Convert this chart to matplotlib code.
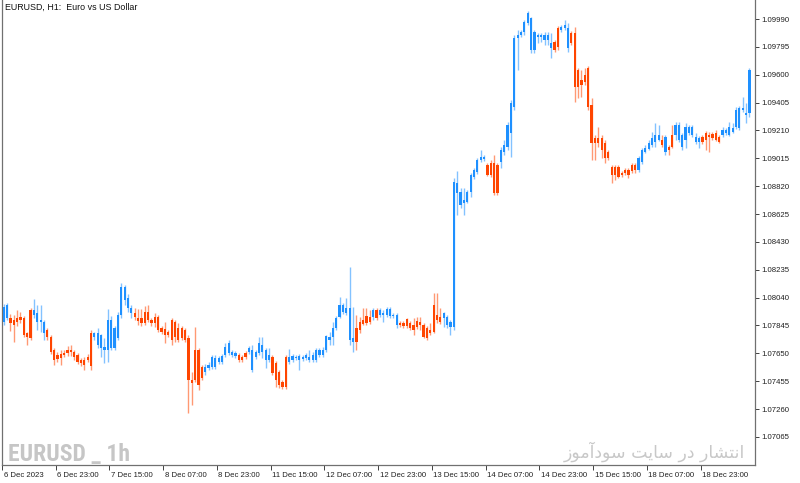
import matplotlib
matplotlib.use("Agg")
import matplotlib.pyplot as plt
import matplotlib.transforms as mtransforms
import numpy as np

# ---------------- data (EURUSD H1) ----------------
opens = [
    1.07869, 1.07897, 1.07897, 1.07883, 1.07897, 1.07904, 1.07897, 1.07792, 1.07953, 1.07918, 1.07869, 1.07869, 1.07792, 1.07813, 1.07764, 1.07673,
    1.07638, 1.07645, 1.07652, 1.07673, 1.07673, 1.07659, 1.07638, 1.07603, 1.07603, 1.07624, 1.07792, 1.07764, 1.07708, 1.07687, 1.07673, 1.07673,
    1.07687, 1.07687, 1.07757, 1.07918, 1.08023, 1.07967, 1.07932, 1.07932, 1.07897, 1.07897, 1.07939, 1.07939, 1.07883, 1.07904, 1.07904, 1.07827,
    1.07820, 1.07799, 1.07883, 1.07869, 1.07827, 1.07827, 1.07813, 1.07757, 1.07463, 1.07673, 1.07673, 1.07554, 1.07519, 1.07547, 1.07554, 1.07554,
    1.07589, 1.07589, 1.07638, 1.07652, 1.07638, 1.07631, 1.07638, 1.07624, 1.07652, 1.07659, 1.07533, 1.07624, 1.07652, 1.07659, 1.07603, 1.07603,
    1.07624, 1.07582, 1.07519, 1.07449, 1.07624, 1.07589, 1.07603, 1.07617, 1.07603, 1.07610, 1.07617, 1.07603, 1.07603, 1.07603, 1.07638, 1.07638,
    1.07673, 1.07743, 1.07764, 1.07827, 1.07904, 1.07939, 1.07932, 1.07743, 1.07729, 1.07827, 1.07869, 1.07883, 1.07911, 1.07904, 1.07904, 1.07953,
    1.07918, 1.07918, 1.07918, 1.07911, 1.07911, 1.07848, 1.07862, 1.07862, 1.07890, 1.07862, 1.07848, 1.07876, 1.07869, 1.07848, 1.07827, 1.07813,
    1.07988, 1.07918, 1.07904, 1.07897, 1.07848, 1.07834, 1.07834, 1.08772, 1.08688, 1.08702, 1.08709, 1.08779, 1.08884, 1.08919, 1.09003, 1.09010,
    1.08968, 1.08982, 1.08982, 1.08968, 1.08989, 1.09059, 1.09094, 1.09192, 1.09374, 1.09857, 1.09878, 1.09899, 1.09962, 1.09773, 1.09773, 1.09864,
    1.09864, 1.09843, 1.09843, 1.09787, 1.09829, 1.09927, 1.09913, 1.09927, 1.09787, 1.09892, 1.09892, 1.09633, 1.09563, 1.09598, 1.09647, 1.09388,
    1.09157, 1.09157, 1.09157, 1.09122, 1.09059, 1.08954, 1.08954, 1.08954, 1.08912, 1.08933, 1.08933, 1.08968, 1.08968, 1.08933, 1.08989, 1.09059,
    1.09080, 1.09108, 1.09129, 1.09143, 1.09143, 1.09059, 1.09094, 1.09178, 1.09178, 1.09143, 1.09094, 1.09143, 1.09192, 1.09178, 1.09129, 1.09129,
    1.09164, 1.09192, 1.09178, 1.09185, 1.09192, 1.09164, 1.09178, 1.09192, 1.09178, 1.09199, 1.09234, 1.09227, 1.09353, 1.09318, 1.09332,
]
highs = [
    1.07995, 1.08002, 1.07925, 1.07918, 1.07953, 1.07939, 1.07911, 1.07799, 1.07967, 1.08030, 1.07988, 1.07988, 1.07883, 1.07827, 1.07778, 1.07687,
    1.07659, 1.07673, 1.07673, 1.07701, 1.07708, 1.07673, 1.07652, 1.07617, 1.07624, 1.07645, 1.07813, 1.07799, 1.07827, 1.07785, 1.07757, 1.07960,
    1.07911, 1.07841, 1.07939, 1.08142, 1.08128, 1.08065, 1.07988, 1.07967, 1.07960, 1.07960, 1.07981, 1.07988, 1.07897, 1.07932, 1.07918, 1.07841,
    1.07869, 1.07813, 1.07897, 1.07883, 1.07862, 1.07841, 1.07827, 1.07778, 1.07519, 1.07834, 1.07687, 1.07568, 1.07575, 1.07589, 1.07638, 1.07638,
    1.07631, 1.07645, 1.07722, 1.07743, 1.07673, 1.07666, 1.07652, 1.07638, 1.07666, 1.07701, 1.07708, 1.07673, 1.07764, 1.07764, 1.07687, 1.07687,
    1.07638, 1.07596, 1.07533, 1.07463, 1.07638, 1.07680, 1.07645, 1.07638, 1.07645, 1.07638, 1.07652, 1.07673, 1.07659, 1.07687, 1.07687, 1.07694,
    1.07778, 1.07799, 1.07869, 1.07911, 1.08044, 1.08002, 1.08037, 1.08254, 1.07974, 1.07918, 1.07904, 1.07967, 1.07967, 1.07953, 1.07967, 1.07967,
    1.07967, 1.07953, 1.07974, 1.07974, 1.07932, 1.07932, 1.07876, 1.07876, 1.07897, 1.07876, 1.07897, 1.07904, 1.07904, 1.07862, 1.07841, 1.07862,
    1.08072, 1.08072, 1.07967, 1.07939, 1.07918, 1.07883, 1.08877, 1.08926, 1.08807, 1.08807, 1.08793, 1.08912, 1.08947, 1.09017, 1.09073, 1.09038,
    1.08982, 1.09003, 1.09038, 1.08982, 1.09094, 1.09143, 1.09269, 1.09423, 1.09878, 1.09913, 1.09913, 1.09983, 1.10046, 1.10004, 1.09913, 1.09892,
    1.09892, 1.09899, 1.09899, 1.09892, 1.09843, 1.09941, 1.09948, 1.09983, 1.09962, 1.09906, 1.09934, 1.09647, 1.09633, 1.09647, 1.09661, 1.09437,
    1.09178, 1.09234, 1.09178, 1.09143, 1.09073, 1.08968, 1.08968, 1.08968, 1.08926, 1.08947, 1.08947, 1.08982, 1.08982, 1.09031, 1.09087, 1.09108,
    1.09143, 1.09199, 1.09262, 1.09248, 1.09178, 1.09178, 1.09108, 1.09248, 1.09269, 1.09269, 1.09192, 1.09262, 1.09248, 1.09248, 1.09192, 1.09171,
    1.09178, 1.09206, 1.09199, 1.09199, 1.09213, 1.09178, 1.09234, 1.09227, 1.09269, 1.09262, 1.09374, 1.09381, 1.09444, 1.09402, 1.09647,
]
lows = [
    1.07848, 1.07883, 1.07806, 1.07729, 1.07841, 1.07862, 1.07764, 1.07708, 1.07743, 1.07897, 1.07813, 1.07799, 1.07743, 1.07743, 1.07645, 1.07568,
    1.07589, 1.07568, 1.07624, 1.07631, 1.07631, 1.07603, 1.07575, 1.07561, 1.07533, 1.07589, 1.07533, 1.07743, 1.07687, 1.07624, 1.07582, 1.07589,
    1.07673, 1.07673, 1.07743, 1.07897, 1.07988, 1.07939, 1.07897, 1.07883, 1.07848, 1.07841, 1.07848, 1.07869, 1.07841, 1.07834, 1.07799, 1.07785,
    1.07722, 1.07764, 1.07708, 1.07729, 1.07729, 1.07743, 1.07729, 1.07232, 1.07288, 1.07449, 1.07393, 1.07463, 1.07498, 1.07533, 1.07540, 1.07540,
    1.07575, 1.07575, 1.07624, 1.07638, 1.07624, 1.07617, 1.07589, 1.07589, 1.07610, 1.07645, 1.07519, 1.07610, 1.07638, 1.07617, 1.07547, 1.07589,
    1.07498, 1.07414, 1.07407, 1.07400, 1.07400, 1.07575, 1.07589, 1.07603, 1.07533, 1.07596, 1.07603, 1.07589, 1.07589, 1.07589, 1.07624, 1.07624,
    1.07659, 1.07708, 1.07708, 1.07813, 1.07897, 1.07925, 1.07918, 1.07708, 1.07659, 1.07673, 1.07792, 1.07848, 1.07848, 1.07855, 1.07883, 1.07883,
    1.07904, 1.07869, 1.07904, 1.07897, 1.07897, 1.07827, 1.07834, 1.07827, 1.07827, 1.07813, 1.07778, 1.07820, 1.07813, 1.07757, 1.07743, 1.07778,
    1.07792, 1.07862, 1.07855, 1.07834, 1.07827, 1.07778, 1.07813, 1.08618, 1.08667, 1.08618, 1.08702, 1.08744, 1.08870, 1.08905, 1.08989, 1.08996,
    1.08891, 1.08884, 1.08758, 1.08758, 1.08947, 1.09038, 1.09073, 1.09024, 1.09353, 1.09633, 1.09864, 1.09878, 1.09948, 1.09752, 1.09752, 1.09822,
    1.09829, 1.09808, 1.09808, 1.09717, 1.09759, 1.09773, 1.09899, 1.09913, 1.09759, 1.09808, 1.09409, 1.09437, 1.09444, 1.09528, 1.09353, 1.09003,
    1.09003, 1.09094, 1.09017, 1.08982, 1.09003, 1.08842, 1.08863, 1.08877, 1.08884, 1.08898, 1.08877, 1.08912, 1.08912, 1.08919, 1.08975, 1.09052,
    1.09073, 1.09094, 1.09094, 1.09136, 1.09094, 1.09038, 1.09038, 1.09087, 1.09143, 1.09129, 1.09073, 1.09087, 1.09178, 1.09164, 1.09115, 1.09087,
    1.09115, 1.09073, 1.09059, 1.09143, 1.09136, 1.09122, 1.09164, 1.09178, 1.09171, 1.09192, 1.09220, 1.09213, 1.09339, 1.09262, 1.09304,
]
closes = [
    1.07974, 1.07988, 1.07862, 1.07848, 1.07869, 1.07883, 1.07778, 1.07764, 1.07757, 1.07953, 1.07932, 1.07883, 1.07869, 1.07764, 1.07659, 1.07603,
    1.07610, 1.07617, 1.07638, 1.07652, 1.07659, 1.07624, 1.07589, 1.07582, 1.07568, 1.07603, 1.07561, 1.07792, 1.07792, 1.07778, 1.07694, 1.07883,
    1.07883, 1.07827, 1.07918, 1.08114, 1.08114, 1.08037, 1.07967, 1.07904, 1.07876, 1.07862, 1.07862, 1.07883, 1.07862, 1.07862, 1.07813, 1.07799,
    1.07778, 1.07778, 1.07743, 1.07764, 1.07743, 1.07757, 1.07743, 1.07463, 1.07442, 1.07463, 1.07428, 1.07477, 1.07554, 1.07568, 1.07624, 1.07617,
    1.07617, 1.07631, 1.07694, 1.07722, 1.07659, 1.07652, 1.07603, 1.07603, 1.07624, 1.07687, 1.07673, 1.07659, 1.07722, 1.07708, 1.07673, 1.07638,
    1.07512, 1.07463, 1.07428, 1.07414, 1.07414, 1.07624, 1.07631, 1.07624, 1.07631, 1.07624, 1.07638, 1.07624, 1.07638, 1.07673, 1.07673, 1.07673,
    1.07771, 1.07764, 1.07827, 1.07897, 1.07988, 1.07988, 1.07967, 1.07967, 1.07757, 1.07729, 1.07813, 1.07855, 1.07862, 1.07869, 1.07953, 1.07897,
    1.07953, 1.07932, 1.07960, 1.07960, 1.07918, 1.07918, 1.07848, 1.07841, 1.07841, 1.07827, 1.07813, 1.07834, 1.07848, 1.07764, 1.07757, 1.07792,
    1.07799, 1.07883, 1.07869, 1.07932, 1.07904, 1.07869, 1.08849, 1.08842, 1.08779, 1.08723, 1.08779, 1.08898, 1.08933, 1.09003, 1.09024, 1.09024,
    1.08898, 1.08898, 1.08772, 1.08772, 1.09073, 1.09108, 1.09248, 1.09402, 1.09857, 1.09878, 1.09899, 1.09969, 1.10032, 1.09997, 1.09899, 1.09878,
    1.09878, 1.09878, 1.09878, 1.09822, 1.09773, 1.09794, 1.09934, 1.09948, 1.09927, 1.09822, 1.09514, 1.09514, 1.09528, 1.09549, 1.09374, 1.09122,
    1.09122, 1.09122, 1.09073, 1.09017, 1.09017, 1.08898, 1.08898, 1.08884, 1.08898, 1.08912, 1.08898, 1.08926, 1.08933, 1.09017, 1.09073, 1.09087,
    1.09122, 1.09157, 1.09178, 1.09178, 1.09108, 1.09164, 1.09073, 1.09094, 1.09248, 1.09248, 1.09178, 1.09234, 1.09234, 1.09234, 1.09164, 1.09157,
    1.09129, 1.09143, 1.09164, 1.09157, 1.09143, 1.09129, 1.09213, 1.09213, 1.09234, 1.09227, 1.09353, 1.09367, 1.09367, 1.09332, 1.09633,
]

time_labels = ["6 Dec 2023", "6 Dec 23:00", "7 Dec 15:00", "8 Dec 07:00", "8 Dec 23:00",
               "11 Dec 15:00", "12 Dec 07:00", "12 Dec 23:00", "13 Dec 15:00", "14 Dec 07:00",
               "14 Dec 23:00", "15 Dec 15:00", "18 Dec 07:00", "18 Dec 23:00"]
time_label_bars = [0, 16, 32, 48, 64, 80, 96, 112, 128, 144, 160, 176, 192, 208]

price_ticks = [1.07065, 1.07260, 1.07455, 1.07650, 1.07845, 1.08040, 1.08235, 1.08430,
               1.08625, 1.08820, 1.09015, 1.09210, 1.09405, 1.09600, 1.09795, 1.09990]

title_text = "EURUSD, H1:  Euro vs US Dollar"
watermark_left = "EURUSD _ 1h"
# Persian "انتشار در سایت سودآموز", written with Arabic presentation forms in visual order
watermark_right = ("\uFEAF\uFEEE\uFEE3\uFE81\uFEA9\uFEEE\uFEB3 "
                   "\uFE96\uFEF3\uFE8E\uFEB3 "
                   "\uFEAD\uFEA9 "
                   "\uFEAD\uFE8E\uFEB8\uFE98\uFEE7\uFE8D")

# ---------------- drawing ----------------
UP = "#1E90FF"
DOWN = "#FF4500"
W, H = 800, 483

fig = plt.figure(figsize=(W / 100, H / 100), dpi=100)
fig.patch.set_facecolor("white")
ax = fig.add_axes([2 / W, 18 / H, 753 / W, 465 / H])

o = np.array(opens); h = np.array(highs); l = np.array(lows); c = np.array(closes)
n = len(c)
x = np.arange(n)
up = c >= o
cols = np.where(up, UP, DOWN)

ax.vlines(x, l, h, colors=cols, linewidth=1.0, alpha=0.55, zorder=2)
body_lo = np.minimum(o, c)
body_h = np.maximum(np.abs(c - o), 0.00005)
ax.bar(x, body_h, bottom=body_lo, width=0.66, color=cols, linewidth=0, zorder=3)

ax.set_xlim(-0.45, 223.66)
ax.set_ylim(1.06868, 1.10123)

ax.spines["top"].set_visible(False)
for s in ("left", "right", "bottom"):
    ax.spines[s].set_color("#707070")
    ax.spines[s].set_linewidth(0.9)

# price axis on the right
ax.yaxis.tick_right()
ax.set_yticks(price_ticks)
ax.set_yticklabels([f"{p:.5f}" for p in price_ticks])
ax.tick_params(axis="y", direction="out", length=3, width=0.7, color="#404040",
               pad=1.5, labelsize=5.6, labelcolor="#202020")
for t in ax.get_yticklabels():
    t.set_family("Liberation Sans")

# time axis
ax.set_xticks([b - 0.5 for b in time_label_bars])
ax.set_xticklabels(time_labels, ha="left")
ax.tick_params(axis="x", direction="out", length=3.5, width=0.7, color="#404040",
               pad=1.5, labelsize=5.6, labelcolor="#202020")
offset = mtransforms.ScaledTranslation(1.5 / 100, 0, fig.dpi_scale_trans)
for t in ax.get_xticklabels():
    t.set_family("Liberation Sans")
    t.set_transform(t.get_transform() + offset)

# texts
fig.text(5 / W, 1 - 7 / H, title_text, fontsize=6.4, va="center", ha="left",
         family="Liberation Sans", color="#101010")
fig.text(8 / W, 1 - 461 / H, watermark_left, fontsize=17, fontweight="bold",
         family="Roboto Condensed", fontstretch="condensed", color="#c6c6c6",
         va="baseline", ha="left")
fig.text(745 / W, 1 - 458 / H, watermark_right, fontsize=12.5,
         family="DejaVu Sans", color="#c8c8c8", va="baseline", ha="right")

fig.savefig("out.png", dpi=100, facecolor="white")
